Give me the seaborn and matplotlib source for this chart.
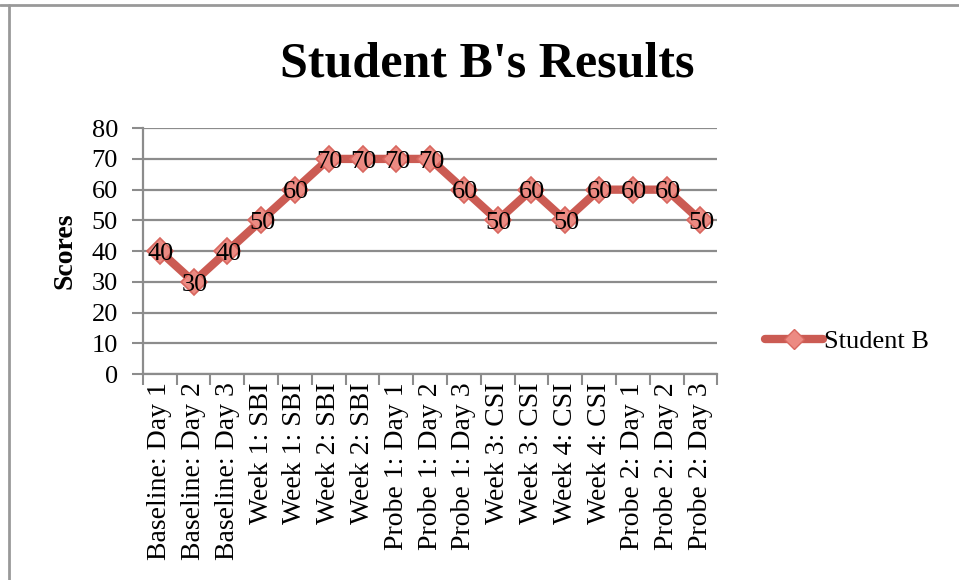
import matplotlib
matplotlib.use("Agg")
import matplotlib.pyplot as plt
from matplotlib.lines import Line2D
import seaborn as sns

# data
sessions = ["Baseline: Day 1", "Baseline: Day 2", "Baseline: Day 3",
            "Week 1: SBI", "Week 1: SBI", "Week 2: SBI", "Week 2: SBI",
            "Probe 1: Day 1", "Probe 1: Day 2", "Probe 1: Day 3",
            "Week 3: CSI", "Week 3: CSI", "Week 4: CSI", "Week 4: CSI",
            "Probe 2: Day 1", "Probe 2: Day 2", "Probe 2: Day 3"]
scores = [40, 30, 40, 50, 60, 70, 70, 70, 70, 60, 50, 60, 50, 60, 60, 60, 50]
y_ticks = [0, 10, 20, 30, 40, 50, 60, 70, 80]
series_name = "Student B"

sns.set_style("white")
plt.rcParams['font.family'] = ['Liberation Serif', 'DejaVu Serif']
plt.rcParams['text.color'] = 'black'
plt.rcParams['xtick.labelcolor'] = 'black'
plt.rcParams['ytick.labelcolor'] = 'black'
plt.rcParams['axes.labelcolor'] = 'black'

LINE = "#CB5B53"
GRID = "#8C8C8C"

fig = plt.figure(figsize=(9.59, 5.8), dpi=100)
ax = fig.add_axes([0.149, 0.355, 0.599, 0.424])

pos = list(range(len(scores)))
sns.lineplot(x=pos, y=scores, ax=ax, color=LINE, linewidth=6,
             marker="D", markersize=13, markerfacecolor="#EC8A82",
             markeredgecolor="#D8675F", markeredgewidth=1.2,
             label=series_name, legend=False)

# data labels sit on the points
for x, v in zip(pos, scores):
    ax.text(x + 0.03, v - 0.9, str(v), ha="center", va="center",
            fontsize=19, color="black")

ax.set_xlim(-0.5, len(scores) - 0.5)
ax.set_ylim(0, 80)
ax.set_yticks(y_ticks)
ax.set_xticks(pos)
ax.set_xticklabels(sessions, rotation=90, fontsize=20)
ax.set_xticks([p - 0.5 for p in pos] + [len(scores) - 0.5], minor=True)
ax.tick_params(axis="x", which="major", length=0, pad=6)
ax.tick_params(axis="x", which="minor", length=8, width=1.5, color=GRID,
               direction="out", bottom=True)
ax.tick_params(axis="y", labelsize=19, length=8, width=1.5, color=GRID,
               direction="out", left=True, pad=10)

ax.yaxis.grid(True, color=GRID, linewidth=1.6)
ax.xaxis.grid(False)
for side in ["top", "right"]:
    ax.spines[side].set_visible(False)
for side in ["left", "bottom"]:
    ax.spines[side].set_color(GRID)
    ax.spines[side].set_linewidth(1.6)

ax.set_ylabel("Scores", fontsize=20, fontweight="bold", labelpad=10)
ax.set_xlabel("")

fig.text(0.508, 0.888, "Student B's Results", ha="center", va="center",
         fontsize=36, fontweight="bold")

handle = Line2D([], [], color=LINE, linewidth=6, marker="D", markersize=10,
                markerfacecolor="#EC8A82", markeredgecolor="#D8675F")
fig.legend(handles=[handle], labels=[series_name], loc="center left",
           bbox_to_anchor=(0.784, 0.411), frameon=False, fontsize=19,
           handlelength=2.2, handletextpad=0.05, borderpad=0)

# outer chart border (top and left edges visible in reference)
fig.add_artist(Line2D([0, 1], [0.991, 0.991], transform=fig.transFigure,
                      color="#999999", linewidth=2))
fig.add_artist(Line2D([0.0095, 0.0095], [0, 0.991], transform=fig.transFigure,
                      color="#999999", linewidth=2))

fig.savefig("out.png", dpi=100, facecolor="white")
